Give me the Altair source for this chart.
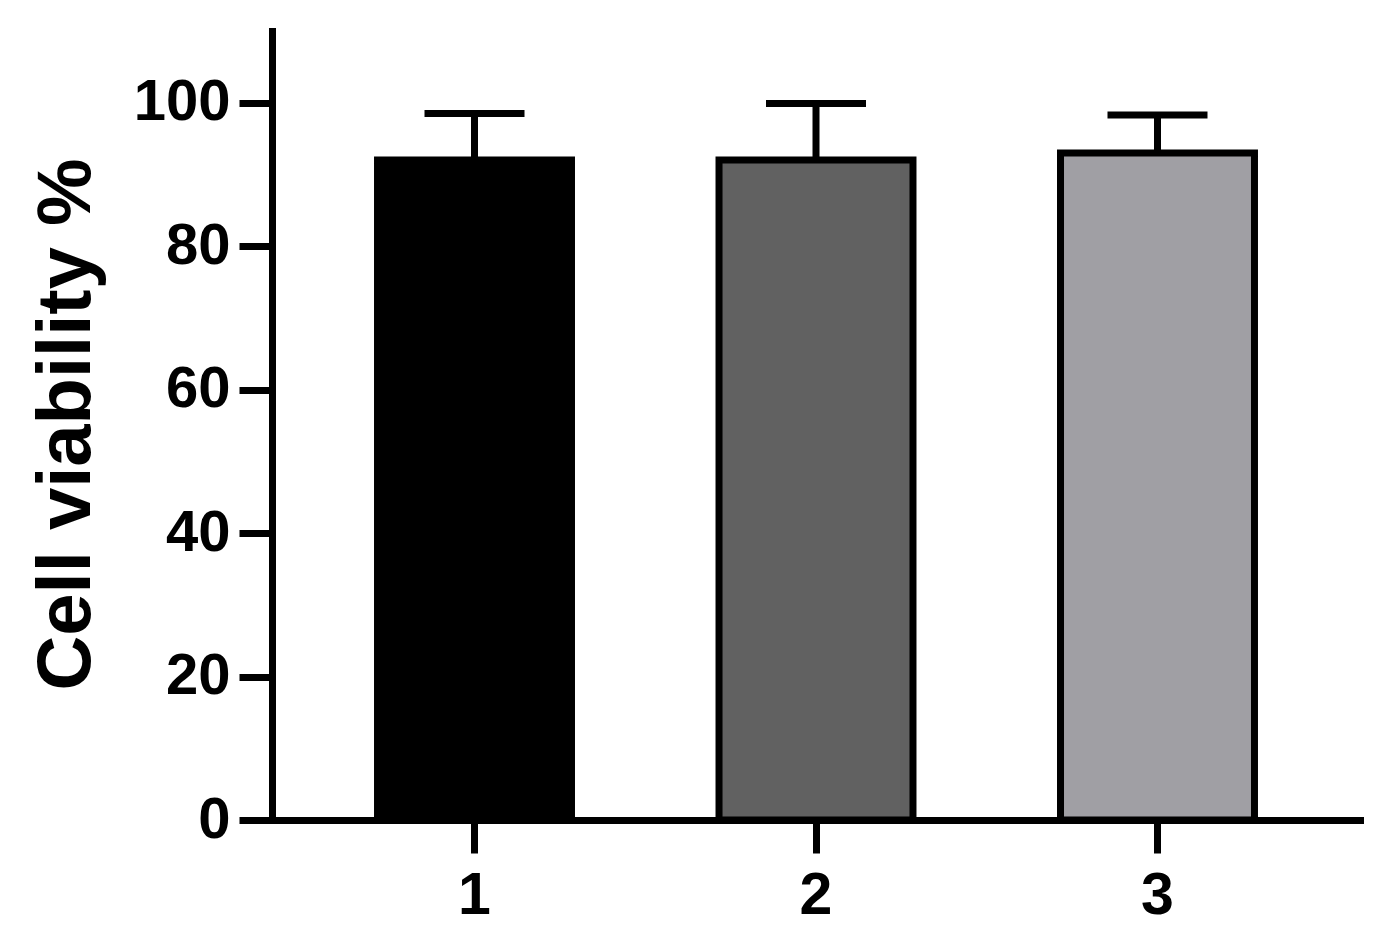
import altair as alt
import pandas as pd

groups = ["1", "2", "3"]
means = [92.0, 92.0, 93.0]
sds = [6.5, 7.9, 5.3]
colors = ["#000000", "#616161", "#a09fa4"]

df = pd.DataFrame({"group": groups, "mean": means, "sd": sds})
df["upper"] = df["mean"] + df["sd"]

FONT = "Liberation Sans"
LW = 7

x = alt.X("group:N", title=None,
          scale=alt.Scale(paddingInner=0.432, paddingOuter=0.309),
          axis=alt.Axis(labelAngle=0, tickSize=33, tickWidth=LW, domainWidth=LW,
                        labelPadding=13, labelFontSize=59, labelFont=FONT,
                        labelFontWeight="bold", labelColor="black",
                        labelAlign="center", labelBaseline="top",
                        domainColor="black", tickColor="black", domainCap="square"))
y_scale = alt.Scale(domain=[0, 110], nice=False)
y_axis = alt.Axis(values=[0, 20, 40, 60, 80, 100], grid=False,
                  tickSize=33, tickWidth=LW, domainWidth=LW, domainCap="square",
                  labelPadding=9, labelFontSize=58, labelFont=FONT,
                  labelFontWeight="bold", labelColor="black",
                  domainColor="black", tickColor="black",
                  titleFont=FONT, titleFontSize=76, titleFontWeight="bold",
                  titleColor="black", titleAngle=270, titleBaseline="alphabetic",
                  titleAlign="center", titleX=-183, titleY=393)

bars = alt.Chart(df).mark_bar(stroke="black", strokeWidth=LW).encode(
    x=x,
    y=alt.Y("mean:Q", scale=y_scale, title="Cell viability %", axis=y_axis),
    color=alt.Color("group:N", scale=alt.Scale(domain=groups, range=colors), legend=None),
)

err = alt.Chart(df).mark_rule(color="black", strokeWidth=LW).encode(
    x=x,
    y=alt.Y("mean:Q", scale=y_scale, title="Cell viability %", axis=y_axis),
    y2="upper:Q",
)

cap = alt.Chart(df).mark_tick(color="black", thickness=LW, size=100, orient="horizontal",
                              opacity=1).encode(
    x=x,
    y=alt.Y("upper:Q", scale=y_scale, title="Cell viability %", axis=y_axis),
)

chart = alt.layer(err, cap, bars).properties(
    width=1088, height=789,
    background="white",
    autosize=alt.AutoSizeParams(type="none"),
    padding={"left": 264, "top": 23, "right": 8, "bottom": 106},
).configure_view(strokeWidth=0, stroke=None)

chart.save("out.html", embed_options={"renderer": "svg", "actions": False})
